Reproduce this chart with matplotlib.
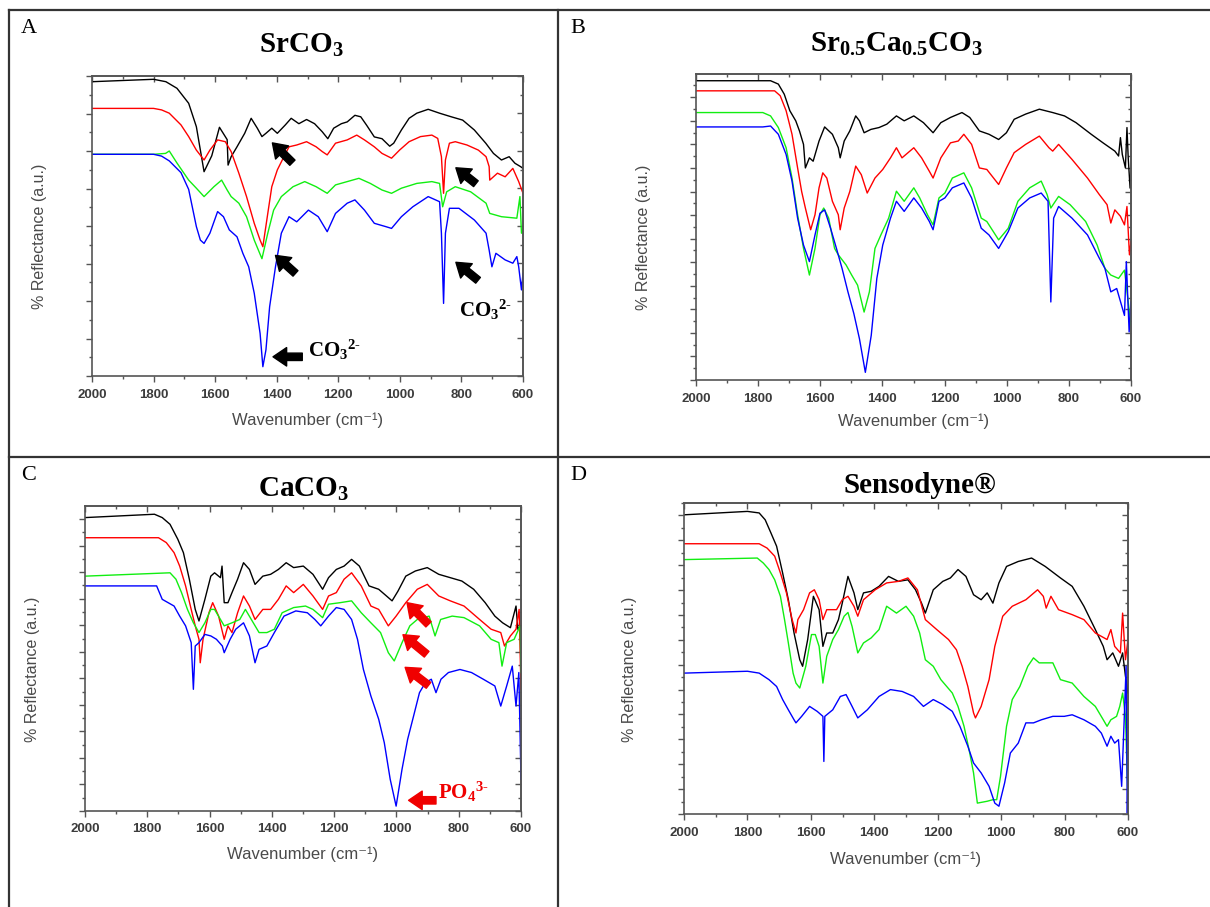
import numpy as np
import matplotlib
matplotlib.use('Agg')
import matplotlib.pyplot as plt
from matplotlib.lines import Line2D
from matplotlib.ticker import MultipleLocator

plt.rcParams['mathtext.fontset'] = 'custom'
plt.rcParams['mathtext.rm'] = 'Liberation Serif:bold'
plt.rcParams['mathtext.it'] = 'Liberation Serif:bold'
plt.rcParams['mathtext.bf'] = 'Liberation Serif:bold'

# spectra: (wavenumber in cm-1, reflectance in a.u. 0..100)
A_BLACK = [(2000, 98.1), (1800, 98.9), (1760, 98.1), (1724, 95.9), (1686, 90.9), (1661, 83.1),
           (1636, 68.1), (1611, 73.4), (1586, 82.9), (1561, 78.8), (1558, 70.3), (1548, 73.1),
           (1529, 76.4), (1504, 80.9), (1483, 85.9), (1463, 82.6), (1448, 79.8), (1435, 80.9),
           (1416, 82.6), (1398, 80.9), (1372, 83.7), (1353, 85.9), (1328, 84.1), (1303, 85.5),
           (1277, 84.1), (1252, 81.4), (1234, 79.1), (1215, 82.6), (1190, 84.1), (1171, 84.7),
           (1146, 86.9), (1127, 86.4), (1108, 83.6), (1083, 79.7), (1058, 79.1), (1033, 76.6),
           (1020, 77.6), (995, 82.0), (970, 85.9), (945, 87.6), (908, 88.9), (871, 87.6),
           (833, 86.4), (796, 85.3), (758, 82.0), (721, 77.6), (696, 74.2), (670, 72.0),
           (645, 73.1), (626, 70.9), (608, 69.8), (600, 69.2)]
A_RED = [(2000, 89.2), (1800, 89.2), (1774, 88.7), (1749, 87.6), (1711, 83.7), (1686, 79.8),
         (1661, 75.3), (1636, 72.0), (1617, 75.3), (1592, 78.7), (1567, 78.1), (1548, 74.8),
         (1523, 67.6), (1498, 59.8), (1473, 50.9), (1454, 45.3), (1445, 43.1), (1429, 54.2),
         (1416, 63.1), (1398, 68.7), (1379, 72.6), (1360, 76.4), (1335, 77.0), (1303, 78.1),
         (1272, 76.4), (1252, 74.8), (1236, 73.7), (1209, 77.6), (1171, 78.7), (1140, 80.3),
         (1115, 78.7), (1083, 76.4), (1058, 74.2), (1027, 72.6), (1001, 75.3), (970, 78.1),
         (933, 79.8), (896, 80.3), (877, 79.2), (865, 73.1), (858, 60.9), (852, 72.0),
         (839, 77.6), (820, 78.1), (782, 77.0), (745, 75.3), (720, 73.1), (710, 69.8),
         (708, 65.3), (683, 67.6), (658, 66.4), (633, 69.2), (614, 64.8), (600, 60.9)]
A_GREEN = [(2000, 73.9), (1800, 73.9), (1761, 74.2), (1749, 75.0), (1724, 71.0), (1686, 65.3),
           (1661, 62.6), (1636, 59.8), (1604, 63.1), (1579, 65.3), (1561, 62.0), (1548, 59.8),
           (1523, 57.6), (1498, 53.1), (1473, 45.3), (1448, 39.1), (1429, 47.6), (1410, 55.3),
           (1385, 59.8), (1347, 63.1), (1309, 64.8), (1272, 63.1), (1236, 60.9), (1209, 63.7),
           (1171, 64.8), (1133, 65.9), (1096, 64.2), (1058, 62.0), (1027, 60.9), (995, 62.6),
           (945, 64.2), (896, 64.8), (871, 64.2), (861, 56.4), (848, 61.4), (820, 63.1),
           (770, 61.4), (720, 57.6), (708, 54.2), (670, 53.1), (620, 52.6), (610, 59.8),
           (605, 47.6), (600, 48.7)]
A_BLUE = [(2000, 73.9), (1800, 73.9), (1774, 73.3), (1749, 71.7), (1711, 67.8), (1686, 62.2),
          (1661, 49.8), (1648, 45.3), (1636, 44.2), (1617, 47.6), (1592, 54.8), (1573, 53.1),
          (1554, 48.7), (1529, 46.4), (1510, 40.9), (1491, 36.4), (1473, 27.6), (1454, 14.2),
          (1445, 3.1), (1435, 8.7), (1423, 23.1), (1404, 36.4), (1385, 47.6), (1360, 53.1),
          (1335, 51.4), (1297, 55.3), (1265, 53.1), (1236, 48.1), (1209, 54.2), (1171, 57.6),
          (1146, 58.7), (1115, 55.3), (1083, 50.9), (1046, 49.8), (1027, 49.2), (995, 53.1),
          (958, 56.4), (908, 59.8), (871, 58.1), (865, 47.6), (858, 24.2), (852, 47.6),
          (839, 55.9), (808, 55.9), (758, 52.0), (720, 47.6), (710, 42.0), (701, 36.4),
          (688, 40.9), (658, 38.7), (633, 37.6), (620, 39.8), (614, 36.4), (605, 28.7),
          (600, 34.2)]

B_BLACK = [(2000, 97.8), (1760, 97.8), (1735, 96.7), (1716, 93.4), (1698, 88.0), (1679, 84.7),
           (1667, 81.4), (1654, 77.0), (1648, 69.3), (1635, 72.6), (1623, 71.5), (1604, 78.1),
           (1586, 82.7), (1561, 80.3), (1542, 75.9), (1536, 72.6), (1523, 78.1), (1505, 81.4),
           (1486, 86.3), (1474, 84.7), (1459, 80.8), (1437, 81.9), (1411, 82.5), (1386, 83.6),
           (1355, 86.3), (1330, 84.7), (1299, 86.3), (1268, 84.1), (1237, 80.8), (1212, 84.1),
           (1181, 85.8), (1144, 87.4), (1119, 85.8), (1088, 81.4), (1057, 80.3), (1026, 78.6),
           (1001, 80.8), (976, 85.2), (939, 86.9), (895, 88.5), (852, 87.4), (814, 86.3),
           (777, 84.1), (728, 80.3), (690, 77.5), (652, 74.8), (640, 73.2), (634, 79.2),
           (628, 73.7), (618, 69.3), (613, 82.5), (609, 72.6), (603, 62.8)]
B_RED = [(2000, 94.5), (1747, 94.5), (1729, 92.9), (1710, 88.0), (1691, 80.3), (1673, 69.3),
         (1660, 61.6), (1648, 56.2), (1631, 49.1), (1617, 54.0), (1604, 62.8), (1592, 67.7),
         (1579, 66.0), (1561, 58.4), (1542, 54.0), (1536, 49.1), (1523, 56.2), (1505, 61.6),
         (1486, 69.9), (1468, 67.1), (1449, 61.1), (1424, 66.0), (1399, 68.8), (1374, 72.6),
         (1355, 75.9), (1337, 72.6), (1299, 75.9), (1274, 72.6), (1249, 68.2), (1237, 66.0),
         (1212, 72.6), (1181, 77.5), (1156, 78.1), (1138, 80.3), (1113, 77.0), (1088, 69.3),
         (1064, 68.8), (1026, 63.9), (1001, 69.3), (976, 74.3), (939, 77.0), (895, 79.7),
         (864, 75.9), (852, 74.8), (833, 77.0), (790, 72.1), (740, 66.0), (702, 60.6),
         (677, 57.3), (665, 51.3), (652, 55.6), (634, 53.5), (621, 50.7), (613, 56.7),
         (605, 40.9), (600, 45.2)]
B_GREEN = [(2000, 87.4), (1785, 87.4), (1760, 86.3), (1735, 82.5), (1710, 75.9), (1691, 66.0),
           (1673, 54.0), (1654, 43.0), (1635, 34.3), (1617, 43.0), (1601, 54.0), (1589, 56.2),
           (1573, 52.9), (1554, 43.0), (1542, 40.9), (1517, 37.6), (1499, 34.3), (1480, 31.0),
           (1459, 22.2), (1442, 28.8), (1424, 43.0), (1405, 47.4), (1380, 52.9), (1355, 61.7),
           (1330, 58.4), (1299, 62.8), (1280, 59.5), (1255, 54.0), (1237, 50.7), (1218, 59.5),
           (1199, 61.1), (1175, 66.0), (1138, 67.7), (1113, 62.8), (1082, 52.9), (1064, 51.8),
           (1026, 45.8), (995, 49.6), (964, 58.4), (926, 62.8), (889, 65.0), (870, 60.6),
           (858, 56.2), (833, 60.0), (796, 57.3), (746, 51.8), (709, 44.1), (684, 36.5),
           (665, 34.3), (640, 33.2), (621, 35.9), (609, 25.5), (600, 17.9)]
B_BLUE = [(2000, 82.7), (1785, 82.7), (1760, 83.0), (1735, 80.3), (1710, 73.7), (1691, 65.0),
          (1673, 52.9), (1654, 44.1), (1635, 38.7), (1617, 47.4), (1601, 54.5), (1586, 55.6),
          (1567, 49.6), (1548, 43.0), (1530, 36.5), (1511, 28.8), (1492, 21.7), (1474, 13.5),
          (1455, 2.5), (1436, 14.6), (1418, 33.2), (1399, 44.1), (1374, 52.9), (1355, 58.4),
          (1330, 55.1), (1299, 59.5), (1274, 56.2), (1249, 51.8), (1237, 49.1), (1218, 58.4),
          (1199, 59.5), (1175, 62.8), (1138, 64.4), (1113, 59.5), (1082, 49.6), (1057, 47.4),
          (1026, 43.0), (995, 48.5), (964, 56.2), (926, 59.5), (889, 61.1), (867, 58.4),
          (858, 25.5), (849, 52.9), (833, 56.7), (790, 52.9), (740, 47.4), (702, 39.8),
          (684, 36.5), (665, 28.8), (646, 29.9), (621, 21.1), (615, 38.7), (606, 15.7),
          (600, 25.5)]

C_BLACK = [(2000, 96.2), (1777, 97.3), (1752, 96.2), (1727, 94.0), (1702, 89.1), (1684, 84.7),
           (1665, 76.0), (1646, 66.1), (1634, 62.3), (1615, 69.4), (1596, 77.0), (1584, 78.1),
           (1565, 76.5), (1560, 80.3), (1553, 68.3), (1541, 68.3), (1528, 71.6), (1510, 76.0),
           (1491, 81.4), (1472, 79.2), (1454, 74.3), (1429, 77.0), (1404, 77.6), (1379, 79.2),
           (1354, 81.4), (1330, 79.8), (1299, 80.3), (1268, 77.6), (1237, 72.7), (1218, 76.5),
           (1193, 79.2), (1168, 80.3), (1144, 82.5), (1119, 80.3), (1088, 73.8), (1057, 72.7),
           (1032, 70.5), (1014, 68.9), (995, 72.1), (970, 77.0), (939, 78.7), (901, 79.8),
           (864, 77.6), (827, 76.5), (790, 75.4), (752, 72.7), (715, 68.3), (684, 63.9),
           (659, 61.7), (634, 60.1), (616, 67.2), (610, 59.6), (600, 60.7)]
C_RED = [(2000, 89.6), (1764, 89.6), (1739, 88.0), (1714, 84.7), (1696, 80.3), (1677, 73.8),
         (1659, 66.1), (1646, 60.7), (1634, 56.3), (1630, 48.6), (1621, 56.3), (1602, 65.0),
         (1590, 68.3), (1571, 63.9), (1553, 56.3), (1541, 60.7), (1528, 58.5), (1510, 65.0),
         (1491, 70.5), (1472, 67.2), (1454, 62.8), (1429, 66.1), (1404, 66.1), (1379, 69.4),
         (1354, 73.8), (1330, 71.6), (1299, 74.3), (1268, 70.5), (1237, 66.1), (1218, 70.5),
         (1193, 71.6), (1168, 76.0), (1144, 78.1), (1113, 73.8), (1082, 67.2), (1057, 66.1),
         (1026, 60.7), (1001, 63.9), (970, 68.3), (933, 72.7), (901, 74.3), (864, 70.5),
         (827, 68.9), (783, 67.2), (733, 62.8), (696, 59.6), (665, 58.5), (653, 54.1),
         (634, 57.4), (616, 59.6), (606, 66.1), (600, 39.9)]
C_GREEN = [(2000, 77.0), (1727, 78.1), (1708, 76.0), (1690, 71.6), (1671, 66.1), (1652, 61.7),
           (1634, 58.5), (1615, 61.7), (1596, 66.1), (1584, 66.1), (1565, 62.8), (1553, 60.7),
           (1528, 61.7), (1503, 62.8), (1485, 66.1), (1466, 62.8), (1441, 58.5), (1416, 58.5),
           (1392, 59.6), (1367, 65.0), (1330, 66.7), (1292, 67.2), (1268, 66.1), (1237, 63.4),
           (1218, 67.8), (1181, 68.3), (1144, 68.9), (1113, 65.0), (1082, 61.7), (1051, 58.5),
           (1026, 51.9), (1007, 49.2), (982, 55.2), (957, 60.7), (933, 62.8), (895, 63.9),
           (876, 57.4), (858, 62.8), (821, 63.9), (783, 63.4), (733, 60.7), (696, 56.3),
           (671, 55.2), (661, 47.5), (646, 55.2), (622, 56.3), (603, 60.7), (600, 45.4)]
C_BLUE = [(2000, 73.8), (1770, 73.8), (1752, 69.4), (1733, 68.3), (1714, 67.2), (1696, 63.9),
          (1677, 60.7), (1659, 55.2), (1652, 39.9), (1646, 54.1), (1634, 55.2), (1615, 57.9),
          (1596, 57.4), (1578, 56.3), (1559, 54.1), (1553, 51.9), (1534, 56.3), (1516, 59.6),
          (1491, 61.7), (1472, 57.4), (1454, 48.6), (1441, 53.0), (1416, 54.1), (1392, 58.5),
          (1361, 63.9), (1323, 65.6), (1286, 65.0), (1262, 62.8), (1243, 60.7), (1218, 63.9),
          (1193, 66.7), (1168, 66.1), (1144, 62.8), (1125, 56.3), (1106, 46.4), (1082, 37.7),
          (1057, 30.1), (1039, 22.4), (1020, 10.4), (1001, 1.6), (982, 13.7), (964, 23.5),
          (945, 31.1), (926, 38.8), (907, 42.1), (888, 43.2), (873, 38.8), (857, 43.2),
          (833, 45.4), (796, 46.4), (759, 45.4), (721, 43.2), (684, 41.0), (665, 34.4),
          (646, 41.0), (628, 47.5), (616, 34.4), (607, 45.4), (600, 10.4)]

D_BLACK = [(2000, 96.2), (1800, 97.3), (1763, 96.8), (1744, 94.6), (1726, 90.4), (1708, 86.1),
           (1689, 77.5), (1671, 68.9), (1653, 58.2), (1635, 49.6), (1626, 47.5), (1610, 56.1),
           (1592, 70.0), (1574, 65.7), (1562, 53.9), (1550, 58.2), (1531, 58.2), (1513, 62.5),
           (1501, 67.8), (1483, 76.4), (1464, 71.1), (1452, 65.7), (1434, 71.1), (1410, 71.6),
           (1385, 73.2), (1355, 76.4), (1324, 74.8), (1294, 75.3), (1270, 72.1), (1251, 67.8),
           (1239, 64.6), (1214, 72.1), (1184, 74.8), (1160, 75.9), (1136, 78.6), (1111, 76.4),
           (1087, 70.5), (1063, 68.9), (1044, 71.1), (1026, 67.8), (1007, 74.3), (983, 79.6),
           (946, 81.2), (904, 82.3), (861, 79.6), (813, 75.9), (776, 73.2), (739, 66.8),
           (703, 59.3), (678, 53.9), (666, 49.6), (648, 51.8), (630, 47.5), (617, 51.8),
           (608, 44.3), (600, 38.9)]
D_RED = [(2000, 86.9), (1763, 86.9), (1738, 85.5), (1714, 82.9), (1696, 77.5), (1677, 71.1),
         (1659, 62.5), (1647, 58.2), (1641, 62.5), (1623, 65.7), (1604, 71.1), (1589, 72.1),
         (1574, 68.9), (1562, 62.5), (1550, 65.7), (1519, 65.7), (1501, 68.9), (1483, 70.0),
         (1464, 66.8), (1452, 63.6), (1434, 68.9), (1397, 72.1), (1361, 74.3), (1324, 74.8),
         (1294, 75.9), (1264, 72.1), (1239, 62.5), (1203, 59.3), (1166, 56.1), (1141, 52.8),
         (1123, 47.5), (1105, 41.0), (1087, 32.5), (1081, 30.9), (1063, 34.6), (1038, 43.2),
         (1020, 53.9), (995, 63.6), (965, 66.8), (922, 68.9), (885, 72.1), (867, 70.0),
         (858, 66.2), (843, 70.0), (819, 65.7), (776, 64.1), (739, 62.5), (703, 58.2),
         (666, 56.1), (654, 59.3), (642, 53.9), (624, 51.8), (617, 64.6), (608, 49.6),
         (600, 56.1)]
D_GREEN = [(2000, 81.8), (1769, 82.3), (1750, 80.7), (1732, 78.6), (1714, 75.3), (1696, 70.0),
           (1683, 62.5), (1671, 55.0), (1656, 45.3), (1647, 42.1), (1635, 40.5), (1616, 47.5),
           (1598, 57.7), (1586, 57.7), (1574, 53.9), (1562, 42.1), (1550, 50.7), (1531, 56.1),
           (1513, 59.3), (1495, 63.6), (1483, 64.8), (1470, 60.3), (1452, 51.8), (1434, 55.0),
           (1410, 56.6), (1385, 59.3), (1361, 66.8), (1330, 64.6), (1300, 66.8), (1276, 63.6),
           (1257, 58.2), (1239, 49.6), (1214, 47.5), (1190, 43.2), (1154, 38.9), (1136, 34.6),
           (1117, 28.2), (1099, 19.6), (1087, 13.2), (1075, 3.5), (1044, 4.1), (1026, 4.6),
           (1014, 4.6), (1002, 12.1), (983, 28.2), (965, 36.8), (941, 41.0), (916, 47.5),
           (898, 50.2), (880, 48.6), (861, 48.6), (837, 48.6), (813, 43.2), (776, 42.1),
           (739, 37.8), (703, 34.6), (678, 30.3), (666, 28.2), (654, 30.3), (636, 31.4),
           (626, 34.6), (617, 38.9), (608, 31.4), (600, 4.6)]
D_BLUE = [(2000, 45.3), (1800, 45.9), (1763, 45.3), (1732, 43.2), (1708, 41.0), (1689, 36.8),
          (1671, 33.5), (1653, 30.3), (1647, 29.3), (1629, 31.4), (1604, 34.6), (1580, 33.0),
          (1562, 31.4), (1559, 16.9), (1556, 31.4), (1531, 33.5), (1507, 37.8), (1489, 38.4),
          (1470, 34.6), (1452, 30.9), (1422, 33.5), (1385, 37.8), (1349, 40.0), (1312, 39.4),
          (1276, 37.8), (1245, 34.6), (1214, 36.8), (1184, 35.2), (1154, 33.0), (1130, 28.2),
          (1105, 21.8), (1087, 16.4), (1063, 13.2), (1038, 8.9), (1020, 3.5), (1007, 2.5),
          (989, 10.0), (971, 19.6), (946, 22.8), (922, 29.3), (898, 29.3), (873, 30.3),
          (837, 31.4), (801, 31.4), (776, 31.9), (739, 30.3), (703, 28.2), (684, 26.0),
          (666, 21.8), (654, 25.0), (642, 22.8), (630, 23.9), (620, 8.9), (612, 30.3),
          (606, 47.5), (602, 0.3), (600, 19.6)]

XTICKS = [2000, 1800, 1600, 1400, 1200, 1000, 800, 600]
TITLES = [r'SrCO$_3$', r'Sr$_{0.5}$Ca$_{0.5}$CO$_3$', r'CaCO$_3$', 'Sensodyne®']
LETTERS = ['A', 'B', 'C', 'D']
COLORS = ['#000000', '#ff0000', '#11ee11', '#0000ff']
RED = '#f00000'
GREY = '#555555'

W, H = 1210, 907


def fxy(x, y):
    return x / W, 1 - y / H


def add_axes_px(fig, x0, y0, x1, y1):
    return fig.add_axes([x0 / W, 1 - y1 / H, (x1 - x0) / W, (y1 - y0) / H])


def style_axes(ax, ystep, xlab_y, ylab_x):
    ax.set_xlim(2000, 600)
    ax.set_ylim(0, 100)
    ax.set_xticks(XTICKS, labels=[str(t) for t in XTICKS], fontsize=9.5,
                  fontweight='bold', color='#3c3c3c', family='Liberation Sans')
    ax.xaxis.set_minor_locator(MultipleLocator(100))
    ax.yaxis.set_major_locator(MultipleLocator(ystep))
    ax.yaxis.set_minor_locator(MultipleLocator(ystep / 2))
    ax.tick_params(which='both', direction='out', color=GREY, width=1.0, labelleft=False)
    ax.tick_params(which='major', length=4)
    ax.tick_params(which='minor', length=2.5)
    ax.tick_params(axis='x', pad=5)
    for s in ax.spines.values():
        s.set_color(GREY)
        s.set_linewidth(1.2)

    # Origin-style mirror ticks pointing inwards
    top = ax.secondary_xaxis('top')
    top.xaxis.set_major_locator(MultipleLocator(200))
    top.xaxis.set_minor_locator(MultipleLocator(100))
    right = ax.secondary_yaxis('right')
    right.yaxis.set_major_locator(MultipleLocator(ystep))
    right.yaxis.set_minor_locator(MultipleLocator(ystep / 2))
    for sec in (top, right):
        sec.tick_params(which='both', direction='in', color=GREY, width=1.0,
                        labeltop=False, labelright=False)
        sec.tick_params(which='major', length=4)
        sec.tick_params(which='minor', length=2.5)
        for s in sec.spines.values():
            s.set_color(GREY)
            s.set_linewidth(1.2)

    ax.set_xlabel('Wavenumber (cm⁻¹)', fontsize=12, color='#4a4a4a',
                  family=['Liberation Sans', 'DejaVu Sans'])
    ax.xaxis.set_label_coords(0.5, xlab_y)
    ax.set_ylabel('% Reflectance (a.u.)', fontsize=11.5, color='#4a4a4a',
                  family='Liberation Sans')
    ax.yaxis.set_label_coords(ylab_x, 0.465)


def arrow(ax, tail, head, color):
    ax.annotate('', xy=head, xytext=tail,
                arrowprops=dict(arrowstyle='simple,head_length=0.7,head_width=0.95,tail_width=0.38',
                                color=color, shrinkA=0, shrinkB=0, mutation_scale=14))


def label(ax, x, y, s, color):
    ax.text(x, y, s, color=color, fontsize=15, family='Liberation Serif',
            weight='bold', ha='left', va='baseline')


def main():
    fig = plt.figure(figsize=(W / 100, H / 100), dpi=100)

    # panel frame lines
    for (x0, y0, x1, y1) in [(9, 10, W, 10), (9, 457, W, 457), (9, 10, 9, H), (558, 10, 558, H)]:
        p0, p1 = fxy(x0, y0), fxy(x1, y1)
        fig.add_artist(Line2D([p0[0], p1[0]], [p0[1], p1[1]], transform=fig.transFigure,
                              color='#333333', lw=1.6))

    panels = [
        dict(curves=[A_BLACK, A_RED, A_GREEN, A_BLUE], box=(92, 76, 523, 376), ystep=12.5,
             xlab=-0.12, ylab=-0.105, title=(301, 53), letter=(29, 33)),
        dict(curves=[B_BLACK, B_RED, B_GREEN, B_BLUE], box=(696, 74, 1131, 380), ystep=7.7,
             xlab=-0.11, ylab=-0.104, title=(897, 52), letter=(578, 33)),
        dict(curves=[C_BLACK, C_RED, C_GREEN, C_BLUE], box=(85, 506, 521, 811), ystep=8.7,
             xlab=-0.118, ylab=-0.103, title=(304, 497), letter=(29, 480)),
        dict(curves=[D_BLACK, D_RED, D_GREEN, D_BLUE], box=(684, 503, 1128, 814), ystep=8.0,
             xlab=-0.122, ylab=-0.106, title=(920, 493), letter=(578, 480)),
    ]

    axes = []
    for i, p in enumerate(panels):
        ax = add_axes_px(fig, *p['box'])
        for pts, col in zip(p['curves'], COLORS):
            wn, refl = np.array(pts).T
            ax.plot(wn, refl, color=col, lw=1.0)
        style_axes(ax, p['ystep'], p['xlab'], p['ylab'])
        tx, ty = fxy(*p['title'])
        fig.text(tx, ty, TITLES[i], ha='center', va='baseline', fontsize=21,
                 family='Liberation Serif', weight='bold')
        lx, ly = fxy(*p['letter'])
        fig.text(lx, ly, LETTERS[i], ha='center', va='baseline', fontsize=16,
                 family='Liberation Serif')
        axes.append(ax)

    # panel A annotations
    ax = axes[0]
    arrow(ax, (1349, 71.1), (1414, 77.7), 'black')
    arrow(ax, (1339, 34.2), (1404, 40.2), 'black')
    arrow(ax, (753, 64.1), (818, 69.4), 'black')
    arrow(ax, (746, 31.9), (818, 37.9), 'black')
    arrow(ax, (1317, 6.4), (1412, 6.4), 'black')
    label(ax, 1297, 6.3, r'CO$_3$$^{2\text{-}}$', 'black')
    label(ax, 808, 19.6, r'CO$_3$$^{2\text{-}}$', 'black')

    # panel C annotations
    ax = axes[2]
    arrow(ax, (897, 61.2), (966, 68.3), RED)
    arrow(ax, (903, 51.4), (979, 57.8), RED)
    arrow(ax, (897, 41.2), (972, 47.1), RED)
    arrow(ax, (873, 3.5), (961, 3.5), RED)
    label(ax, 867, 3.9, r'PO$_4$$^{3\text{-}}$', RED)

    fig.savefig('out.png', dpi=100)


if __name__ == '__main__':
    main()
